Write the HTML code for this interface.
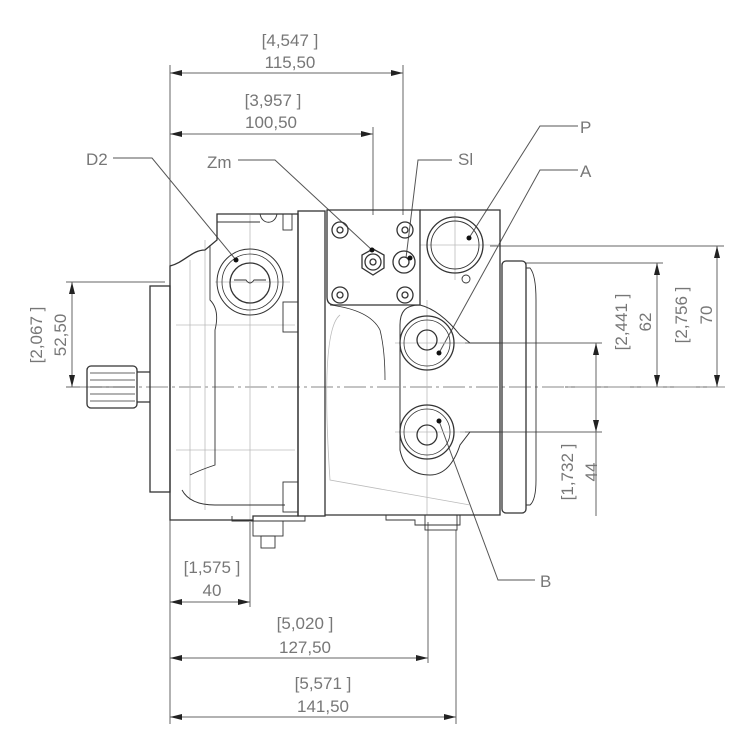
<!DOCTYPE html>
<html><head><meta charset="utf-8"><style>
html,body{margin:0;padding:0;background:#fff}
svg{display:block}
text{font-family:"Liberation Sans Narrow","Liberation Sans",sans-serif;fill:#777;font-size:17px}
.d{stroke:#666;stroke-width:1;fill:none}
.b{stroke:#333;stroke-width:1.3;fill:none}
.t{stroke:#bbb;stroke-width:0.8;fill:none}
.c{stroke:#888;stroke-width:0.9;fill:none;stroke-dasharray:22 4 3 4}
.k{stroke:#555;stroke-width:1;fill:none}
</style></head><body>
<svg width="750" height="750" viewBox="0 0 750 750" xmlns="http://www.w3.org/2000/svg">
<defs>
<marker id="a" viewBox="0 0 12 6" refX="12" refY="3" markerWidth="12" markerHeight="6" orient="auto-start-reverse" markerUnits="userSpaceOnUse"><path d="M0,0 L12,3 L0,6z" fill="#222"/></marker>
</defs>

<!-- extension lines -->
<g class="d">
<line x1="170" y1="65" x2="170" y2="724"/>
<line x1="403" y1="65" x2="403" y2="215"/>
<line x1="373" y1="127" x2="373" y2="215"/>
<line x1="250" y1="522" x2="250" y2="607"/>
<line x1="428" y1="522" x2="428" y2="663"/>
<line x1="456" y1="530" x2="456" y2="724"/>
<line x1="490" y1="246" x2="724" y2="246"/>
<line x1="525" y1="263" x2="663" y2="263"/>
<line x1="440" y1="343" x2="602" y2="343"/>
<line x1="460" y1="432" x2="602" y2="432"/>
<line x1="565" y1="387" x2="724" y2="387"/>
<line x1="66" y1="282" x2="165" y2="282"/>
<line x1="66" y1="387" x2="85" y2="387"/>
</g>
<!-- dimension lines -->
<g class="d">
<line x1="170" y1="73" x2="403" y2="73" marker-start="url(#a)" marker-end="url(#a)"/>
<line x1="170" y1="134" x2="373" y2="134" marker-start="url(#a)" marker-end="url(#a)"/>
<line x1="170" y1="602" x2="250" y2="602" marker-start="url(#a)" marker-end="url(#a)"/>
<line x1="170" y1="658" x2="428" y2="658" marker-start="url(#a)" marker-end="url(#a)"/>
<line x1="170" y1="717" x2="456" y2="717" marker-start="url(#a)" marker-end="url(#a)"/>
<line x1="717" y1="246" x2="717" y2="387" marker-start="url(#a)" marker-end="url(#a)"/>
<line x1="657" y1="263" x2="657" y2="387" marker-start="url(#a)" marker-end="url(#a)"/>
<line x1="596" y1="343" x2="596" y2="516"/>
<path d="M596,343 l-3,12 h6z M596,432 l-3,-12 h6z" fill="#222" stroke="none"/>
<line x1="72" y1="282" x2="72" y2="387" marker-start="url(#a)" marker-end="url(#a)"/>
</g>

<!-- dimension texts -->
<text x="290" y="46" text-anchor="middle">[4,547 ]</text>
<text x="290" y="68" text-anchor="middle">115,50</text>
<text x="273" y="106" text-anchor="middle">[3,957 ]</text>
<text x="271" y="128" text-anchor="middle">100,50</text>
<text x="212" y="573" text-anchor="middle">[1,575 ]</text>
<text x="212" y="596" text-anchor="middle">40</text>
<text x="305" y="629" text-anchor="middle">[5,020 ]</text>
<text x="305" y="653" text-anchor="middle">127,50</text>
<text x="323" y="689" text-anchor="middle">[5,571 ]</text>
<text x="323" y="712" text-anchor="middle">141,50</text>
<text transform="translate(42,335) rotate(-90)" text-anchor="middle">[2,067 ]</text>
<text transform="translate(66,335) rotate(-90)" text-anchor="middle">52,50</text>
<text transform="translate(627,322) rotate(-90)" text-anchor="middle">[2,441 ]</text>
<text transform="translate(651,322) rotate(-90)" text-anchor="middle">62</text>
<text transform="translate(687,315) rotate(-90)" text-anchor="middle">[2,756 ]</text>
<text transform="translate(712,315) rotate(-90)" text-anchor="middle">70</text>
<text transform="translate(573,472) rotate(-90)" text-anchor="middle">[1,732 ]</text>
<text transform="translate(597,472) rotate(-90)" text-anchor="middle">44</text>

<!-- labels -->
<text x="86" y="165">D2</text>
<text x="207" y="168">Zm</text>
<text x="458" y="165">Sl</text>
<text x="580" y="133">P</text>
<text x="580" y="177">A</text>
<text x="540" y="587">B</text>
<g class="k">
<polyline points="113,158 152,158 236,260"/>
<polyline points="238,160 275,160 372,250"/>
<polyline points="452,160 418,160 406,258"/>
<polyline points="578,126 540,126 469,238"/>
<polyline points="578,170 540,170 439,353"/>
<polyline points="535,580 498,580 439,421"/>
</g>

<!-- centerlines -->
<line class="c" x1="80" y1="387" x2="725" y2="387"/>
<g class="t">
<line x1="250" y1="215" x2="250" y2="520"/>
<line x1="427" y1="300" x2="427" y2="515"/>
<line x1="455" y1="212" x2="455" y2="280"/>
<line x1="395" y1="343" x2="465" y2="343"/>
<line x1="395" y1="432" x2="465" y2="432"/>
<line x1="215" y1="282" x2="290" y2="282"/>
<line x1="420" y1="245" x2="500" y2="245"/>
<line x1="176" y1="325" x2="295" y2="325"/>
<line x1="176" y1="450" x2="295" y2="450"/>
<path d="M190,260 L190,500 M205,240 L205,510 M340,315 Q320,330 330,480 L470,505"/>
</g>

<!-- body -->
<g class="b">
<!-- shaft -->
<rect x="87" y="366" width="50" height="42" rx="4"/>
<path d="M90,373 H135 M90,380 H135 M90,387 H135 M90,394 H135 M90,401 H135" stroke-width="0.8"/>
<path d="M137,372 H150 M137,402 H150"/>
<!-- front flange -->
<rect x="150" y="286" width="20" height="206"/>
<!-- left housing -->
<path d="M170,266 C185,262 192,250 205,250 L217,240 L217,214 L298,214 L298,516 L253,516 L253,520 L170,520 Z"/>
<path d="M217,222 H260 M260,214 C262,225 275,225 277,214" stroke-width="0.9"/>
<path d="M210,245 L210,300 Q220,310 215,330 L215,465 Q200,470 190,475 M182,490 Q190,505 215,505 H285" stroke-width="0.9"/>
<rect x="283" y="214" width="9" height="16" stroke-width="0.9"/>
<rect x="283" y="302" width="15" height="30" stroke-width="0.9"/>
<rect x="283" y="482" width="15" height="30" stroke-width="0.9"/>
<!-- middle section -->
<rect x="298" y="211" width="27" height="305"/>
<!-- control plate -->
<path d="M327,210 L420,210 L420,305 L335,305 Q327,305 327,297 Z"/>
<!-- right housing -->
<path d="M420,210 L500,210 L500,515 L420,515 L405,515 L325,515"/>
<path d="M420,305 C405,305 400,312 400,325 L400,450 Q405,475 430,475 Q450,475 460,445 L470,432 L500,432 M420,305 Q440,310 460,335 L470,343 L500,343" stroke-width="1"/>
<path d="M330,305 Q370,310 380,330 Q385,350 385,380" stroke-width="0.8"/>
<!-- right flange -->
<rect x="502" y="261" width="24" height="252" rx="4"/>
<path d="M526,268 L530,268 Q536,275 536,300 L536,480 Q536,500 530,505 L526,505" stroke-width="0.9"/>
<!-- D2 port -->
<circle cx="250" cy="282" r="33" stroke-width="1"/>
<circle cx="250" cy="282" r="28" stroke-width="0.8"/>
<circle cx="250" cy="283" r="20"/>
<path d="M234,280 H246 Q250,286 254,280 H266" stroke-width="0.9"/>
<!-- P port -->
<circle cx="455" cy="245" r="28"/>
<circle cx="455" cy="245" r="24" stroke-width="0.9"/>
<circle cx="466" cy="279" r="4" stroke-width="0.9"/>
<!-- bolts -->
<circle cx="340" cy="230" r="8"/><circle cx="340" cy="230" r="3"/>
<circle cx="405" cy="230" r="8"/><circle cx="405" cy="230" r="3"/>
<circle cx="340" cy="295" r="8"/><circle cx="340" cy="295" r="3"/>
<circle cx="405" cy="295" r="8"/><circle cx="405" cy="295" r="3"/>
<!-- Zm -->
<polygon points="373,249 384,255 384,268 373,275 362,268 362,255"/>
<circle cx="373" cy="262" r="8"/><circle cx="373" cy="262" r="3"/>
<!-- Sl -->
<circle cx="404" cy="262" r="11"/><circle cx="404" cy="262" r="5"/>
<!-- A port -->
<circle cx="427" cy="343" r="27"/>
<circle cx="427" cy="343" r="23" stroke-width="0.8"/>
<circle cx="427" cy="340" r="10"/>
<!-- B port -->
<circle cx="427" cy="432" r="27"/>
<circle cx="427" cy="432" r="23" stroke-width="0.8"/>
<circle cx="427" cy="435" r="10"/>
<!-- bottom fittings -->
<path d="M232,516 V521 H305 V516" stroke-width="0.9"/>
<rect x="253" y="521" width="30" height="15" stroke-width="0.9"/>
<rect x="261" y="536" width="14" height="12" stroke-width="0.9"/>
<path d="M386,515 V520 H415 V525 H460 V515" stroke-width="0.9"/>
<rect x="425" y="515" width="32" height="15" stroke-width="0.9"/>
</g>
<!-- dots -->
<g fill="#111">
<circle cx="236" cy="260" r="2.5"/>
<circle cx="372" cy="250" r="2.5"/>
<circle cx="410" cy="258" r="2.5"/>
<circle cx="469" cy="238" r="2.5"/>
<circle cx="439" cy="353" r="2.5"/>
<circle cx="439" cy="421" r="2.5"/>
</g>
</svg>
</body></html>
